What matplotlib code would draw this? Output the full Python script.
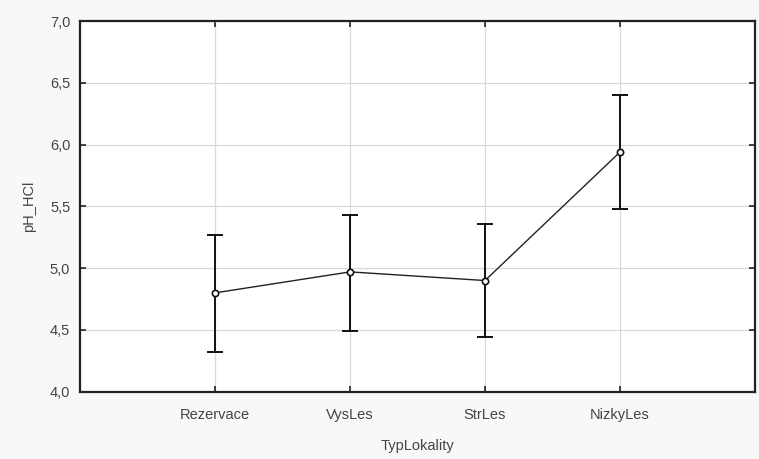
import matplotlib
matplotlib.use("Agg")
import matplotlib.pyplot as plt
from matplotlib.ticker import FuncFormatter

categories = ["Rezervace", "VysLes", "StrLes", "NizkyLes"]
means = [4.80, 4.97, 4.90, 5.94]
upper = [5.27, 5.43, 5.36, 6.40]
lower = [4.32, 4.49, 4.44, 5.48]
yticks = [4.0, 4.5, 5.0, 5.5, 6.0, 6.5, 7.0]

plt.rcParams['font.family'] = ['Liberation Sans', 'DejaVu Sans']

fig = plt.figure(figsize=(7.59, 4.59), dpi=100, facecolor="#f8f8f8")
ax = fig.add_axes([0.1054, 0.1466, 0.8893, 0.8074])
ax.set_facecolor("white")

x = list(range(1, len(categories) + 1))
yerr_lo = [m - l for m, l in zip(means, lower)]
yerr_hi = [u - m for m, u in zip(means, upper)]

ax.plot(x, means, color="#222222", lw=1.0, zorder=3)
ax.errorbar(x, means, yerr=[yerr_lo, yerr_hi], fmt="none", ecolor="#111111",
            elinewidth=1.4, capsize=5.5, capthick=1.4, zorder=4)
ax.plot(x, means, linestyle="none", marker="o", markersize=4.5,
        markerfacecolor="white", markeredgecolor="#111111", markeredgewidth=1.2, zorder=5)

ax.set_xlim(0, 5)
ax.set_ylim(4.0, 7.0)
ax.set_xticks(x)
ax.set_xticklabels(categories)
ax.set_yticks(yticks)
ax.yaxis.set_major_formatter(FuncFormatter(lambda v, p: f"{v:.1f}".replace(".", ",")))

ax.grid(True, color="#d8d8d8", lw=0.9, zorder=0)
ax.set_axisbelow(True)

for s in ax.spines.values():
    s.set_linewidth(1.6)
    s.set_color("#222222")

ax.tick_params(axis="both", direction="in", length=4, width=1.2, color="#222222",
               labelcolor="#444444", labelsize=10.5, top=True, right=True, pad=7)
ax.tick_params(axis="x", pad=12)

ax.set_xlabel("TypLokality", fontsize=10.5, color="#444444", labelpad=12)
ax.set_ylabel("pH_HCl", fontsize=10.5, color="#444444", labelpad=10)

fig.savefig("out.png", dpi=100, facecolor=fig.get_facecolor())
